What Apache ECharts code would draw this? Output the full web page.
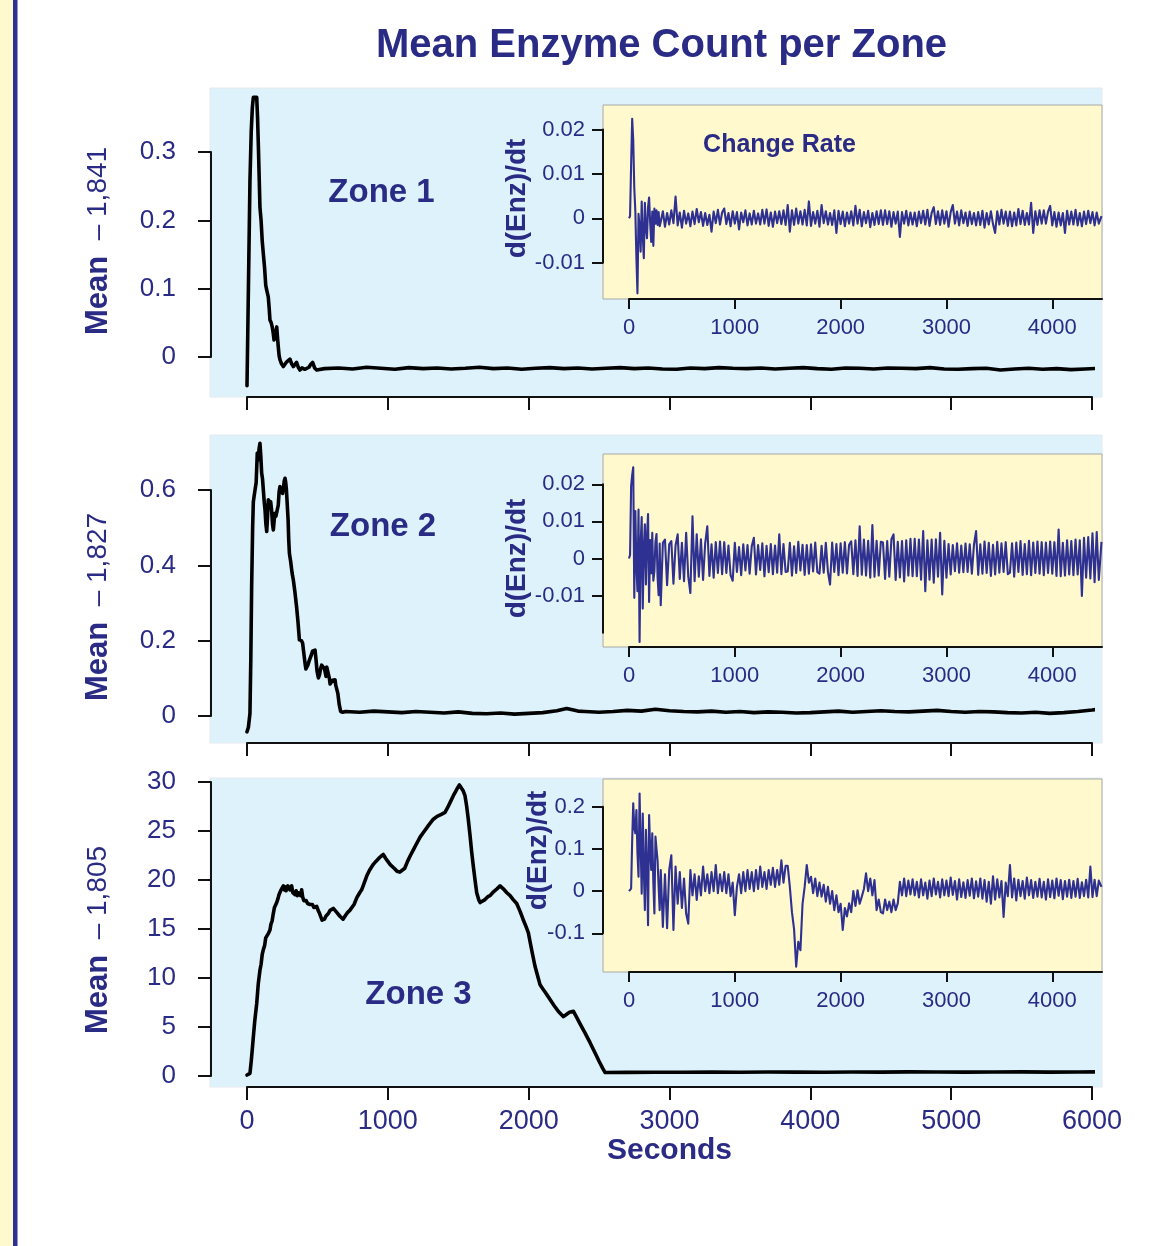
<!DOCTYPE html>
<html>
<head>
<meta charset="utf-8">
<script src="https://cdn.jsdelivr.net/npm/echarts@6/dist/echarts.min.js"></script>
<style>
html,body{margin:0;padding:0;background:#ffffff;}
#chart{width:1153px;height:1246px;}
</style>
</head>
<body>
<div id="chart"></div>
<script>
// ---------------- DATA ----------------
// Main panels: [seconds, mean enzyme count offset]
const zone1Series = [
 [0,-0.042],[10,0.1],[21,0.258],[30,0.33],[38,0.365],[45,0.38],[55,0.382],[69,0.38],[75,0.35],[81,0.307],
 [92,0.219],[100,0.2],[108,0.17],[116,0.151],[125,0.13],[133,0.105],[140,0.098],[151,0.088],[158,0.07],[163,0.054],
 [172,0.05],[179,0.044],[186,0.035],[192,0.025],[200,0.03],[211,0.044],[216,0.03],[222,0.015],[228,0.002],[234,-0.004],
 [245,-0.01],[258,-0.014],[270,-0.012],[282,-0.007],[294,-0.006],[305,-0.003],[317,-0.01],[329,-0.014],[340,-0.012],[352,-0.008],
 [364,-0.015],[376,-0.019],[390,-0.016],[410,-0.018],[424,-0.017],[440,-0.015],[452,-0.011],[466,-0.008],[480,-0.016],[495,-0.019],
 [550,-0.017],[650,-0.016],[750,-0.0175],[850,-0.015],[950,-0.0165],[1050,-0.018],[1150,-0.0155],[1250,-0.017],[1350,-0.016],[1450,-0.0175],
 [1550,-0.0165],[1650,-0.015],[1750,-0.017],[1850,-0.016],[1950,-0.018],[2050,-0.0165],[2150,-0.0155],[2250,-0.017],[2350,-0.016],[2450,-0.0175],
 [2550,-0.0165],[2650,-0.0155],[2750,-0.017],[2850,-0.016],[2950,-0.0175],[3050,-0.018],[3150,-0.016],[3250,-0.017],[3350,-0.0155],[3450,-0.0165],
 [3550,-0.017],[3650,-0.016],[3750,-0.0175],[3850,-0.0165],[3950,-0.0155],[4050,-0.017],[4150,-0.018],[4250,-0.016],[4350,-0.0165],[4450,-0.0175],
 [4550,-0.016],[4650,-0.0165],[4750,-0.017],[4850,-0.0155],[4950,-0.0175],[5050,-0.018],[5150,-0.017],[5250,-0.0165],[5350,-0.019],[5450,-0.0175],
 [5550,-0.0165],[5650,-0.018],[5750,-0.017],[5850,-0.0185],[5950,-0.0175],[6050,-0.0165]
];
const zone2Series = [
 [0,-0.042],[10,-0.03],[21,0.007],[27,0.15],[33,0.343],[40,0.5],[45,0.569],[51,0.585],[57,0.6],[65,0.62],
 [73,0.698],[80,0.68],[86,0.71],[92,0.724],[98,0.69],[104,0.645],[110,0.63],[116,0.6],[122,0.57],[128,0.547],
 [134,0.51],[140,0.49],[146,0.53],[151,0.574],[158,0.575],[163,0.56],[168,0.569],[175,0.545],[181,0.51],[187,0.494],
 [193,0.52],[199,0.538],[205,0.53],[215,0.525],[222,0.56],[228,0.595],[234,0.609],[240,0.6],[247,0.596],[253,0.591],
 [260,0.61],[265,0.625],[270,0.631],[275,0.62],[280,0.6],[286,0.596],[292,0.52],[296,0.47],[301,0.432],[310,0.41],
 [320,0.38],[329,0.361],[340,0.33],[352,0.29],[362,0.25],[372,0.202],[380,0.2],[387,0.2],[395,0.193],[404,0.165],
 [412,0.14],[418,0.125],[424,0.122],[432,0.135],[440,0.145],[447,0.149],[455,0.16],[465,0.172],[475,0.176],[483,0.175],
 [490,0.15],[497,0.12],[507,0.101],[515,0.11],[522,0.125],[530,0.135],[537,0.13],[542,0.132],[550,0.125],[556,0.115],
 [561,0.105],[566,0.13],[572,0.13],[578,0.128],[585,0.1],[590,0.085],[596,0.08],[601,0.08],[608,0.095],[614,0.1],
 [620,0.098],[625,0.096],[630,0.082],[637,0.08],[645,0.06],[655,0.03],[665,0.012],[672,0.007],[680,0.01],
 [700,0.012],[800,0.010],[900,0.013],[1000,0.011],[1100,0.009],[1200,0.012],[1300,0.010],[1400,0.008],[1500,0.011],[1600,0.007],
 [1700,0.006],[1800,0.008],[1900,0.005],[2000,0.007],[2100,0.009],[2200,0.014],[2270,0.02],[2350,0.013],[2400,0.012],[2500,0.010],
 [2600,0.012],[2700,0.015],[2800,0.013],[2900,0.018],[3000,0.014],[3100,0.012],[3200,0.011],[3300,0.013],[3400,0.010],[3500,0.012],
 [3600,0.009],[3700,0.011],[3800,0.010],[3900,0.008],[4000,0.009],[4100,0.011],[4200,0.013],[4300,0.010],[4400,0.012],[4500,0.014],
 [4600,0.012],[4700,0.011],[4800,0.013],[4900,0.015],[5000,0.012],[5100,0.010],[5200,0.012],[5300,0.011],[5400,0.009],[5500,0.008],
 [5600,0.010],[5700,0.007],[5800,0.009],[5900,0.012],[6000,0.016],[6060,0.019]
];
const zone3Series = [
 [0,0.1],[10,0.15],[21,0.27],[30,1.5],[38,2.8],[45,4.0],[55,5.6],[69,7.4],[80,9.4],[92,10.8],
 [100,11.4],[108,12.4],[116,12.9],[125,13.3],[133,14.1],[140,14.2],[150,14.5],[163,14.9],[170,15.5],[178,15.8],
 [187,16.6],[195,17.2],[203,17.4],[211,17.7],[220,18.1],[227,18.5],[234,18.7],[242,19.0],[250,19.1],[258,19.4],
 [265,19.0],[270,19.3],[277,18.9],[282,18.9],[290,19.4],[298,19.3],[305,19.0],[312,18.8],[317,19.4],[325,18.7],
 [333,18.6],[341,18.5],[349,18.9],[357,18.4],[364,18.7],[372,18.6],[380,18.4],[388,19.0],[395,18.3],[403,17.9],
 [412,17.7],[420,17.9],[430,17.6],[440,17.4],[447,17.5],[455,17.3],[465,17.5],[475,17.2],[485,17.3],[495,17.3],
 [505,16.9],[515,16.6],[525,16.2],[533,15.9],[542,15.8],[550,16.0],[560,16.3],[570,16.5],[578,16.6],[590,16.9],
 [600,17.1],[613,17.1],[625,16.9],[637,16.7],[649,16.5],[660,16.3],[672,16.1],[682,16.0],[689,16.1],[700,16.4],
 [715,16.7],[730,16.9],[743,17.0],[760,17.5],[780,18.2],[800,18.7],[814,19.0],[830,19.6],[850,20.4],[870,21.0],
 [897,21.6],[915,21.9],[935,22.2],[950,22.4],[968,22.6],[985,22.2],[1000,21.9],[1015,21.6],[1027,21.4],[1045,21.2],
 [1065,20.9],[1085,20.8],[1099,20.7],[1120,21.2],[1140,21.9],[1160,22.5],[1182,23.1],[1200,23.6],[1230,24.4],[1260,25.0],
 [1290,25.6],[1323,26.2],[1350,26.5],[1380,26.7],[1406,26.9],[1425,27.4],[1445,28.0],[1465,28.6],[1480,29.0],[1495,29.4],
 [1508,29.7],[1520,29.5],[1535,29.1],[1548,28.6],[1560,27.5],[1572,26.1],[1584,24.5],[1595,22.9],[1607,21.4],[1620,19.9],
 [1631,18.7],[1645,18.0],[1655,17.7],[1667,17.7],[1690,18.0],[1710,18.3],[1726,18.4],[1750,18.8],[1775,19.1],[1797,19.4],
 [1820,19.1],[1845,18.7],[1868,18.4],[1890,18.0],[1915,17.6],[1939,16.8],[1960,16.0],[1980,15.3],[1998,14.6],[2010,13.7],
 [2025,12.6],[2045,11.2],[2060,10.4],[2081,9.3],[2100,8.9],[2120,8.5],[2152,7.8],[2180,7.2],[2210,6.6],[2230,6.3],
 [2247,6.06],[2270,6.3],[2290,6.5],[2318,6.6],[2340,6.0],[2370,5.2],[2400,4.4],[2436,3.4],[2470,2.4],[2500,1.5],
 [2525,0.8],[2543,0.35],[2700,0.37],[2900,0.39],[3100,0.38],[3300,0.4],[3500,0.39],[3700,0.41],[3900,0.4],[4100,0.39],
 [4300,0.41],[4500,0.4],[4700,0.42],[4900,0.41],[5100,0.4],[5300,0.41],[5500,0.42],[5700,0.4],[5900,0.41],[6060,0.42]
];

// Inset (change rate) sample times: dense head, then regular 20 s sampling, then final sample
const rateHeadTime = [0,10,20,30,40,50,60,70,80,90,100,110,120,130,140,150,160,170,180,190,200,210,220,230,240,250,260,270,280,290];
const rateTailStart = 300, rateTailStep = 20, rateTailCount = 208, rateEndTime = 4465;

const zone1Rate = [
 0,0.0005,0.012,0.0224,0.0176,0.0068,0.0015,-0.009,-0.0169,0.001,
 -0.002,-0.0075,0.0038,-0.004,-0.009,0.0035,-0.002,-0.0045,0.0025,0.0047,
 -0.001,-0.0053,0.0015,-0.0062,0.0022,-0.0012,0.0018,-0.0015,0.0014,-0.0018,
 -0.0008,0.0016,-0.0019,0.0012,-0.0014,0.0018,-0.0011,0.0049,-0.0016,0.0013,-0.0021,0.0017,-0.0012,0.0011,-0.0018,
 0.0015,-0.0013,0.0021,-0.0009,0.0014,-0.0017,0.0012,-0.0015,0.0008,-0.003,0.0015,-0.0011,0.0019,-0.0014,0.0013,
 0.0022,-0.0013,0.0012,-0.0018,0.0016,-0.0012,0.0014,-0.0025,0.0013,-0.0009,0.0018,-0.0016,0.0011,-0.0014,0.0017,
 -0.0012,0.0011,-0.0014,0.0019,-0.0012,0.002,-0.0017,0.0013,-0.0019,0.0015,-0.0011,0.0016,-0.0013,0.0018,-0.0015,
 0.003,-0.003,0.0018,-0.0015,0.0022,-0.0012,0.0016,-0.0014,0.0019,-0.0016,0.0038,-0.0017,0.0014,-0.0012,0.0017,
 -0.0019,0.003,-0.0011,0.0016,-0.0014,0.0012,-0.0015,0.0018,-0.0033,0.0017,-0.0013,0.0015,-0.0018,0.0013,-0.0012,
 0.0016,-0.0016,0.0028,-0.0012,0.0019,-0.0018,0.0014,-0.0011,0.0017,-0.0020,0.0012,-0.0015,0.0016,-0.0013,0.0018,
 -0.0015,0.0018,-0.0013,0.0016,-0.0019,0.0014,-0.0012,0.0015,-0.0042,0.0014,-0.0012,0.0017,-0.0016,0.0013,-0.0014,
 0.0013,-0.0018,0.0015,-0.0011,0.0017,-0.0014,0.0019,-0.0017,0.0012,0.0025,-0.0013,0.0016,-0.0015,0.0018,-0.0012,
 0.0016,-0.0019,0.0014,0.003,-0.0012,0.0015,-0.0016,0.0018,-0.0011,0.0013,-0.0017,0.0015,-0.0013,0.0012,-0.0016,
 0.0014,-0.0015,0.0017,-0.0021,0.0012,-0.0014,0.0016,-0.0013,-0.0033,0.0016,-0.0014,0.0019,-0.0012,0.0015,-0.0017,
 0.0015,-0.0018,0.0013,-0.0016,0.0021,-0.0013,0.0017,-0.0015,0.0012,-0.0014,0.0035,-0.0033,0.0016,-0.0015,0.0018,
 -0.0012,0.0018,-0.0012,0.0015,0.0028,-0.0016,0.0014,-0.0019,0.0013,-0.0016,0.0012,-0.0033,0.0017,-0.0014,0.0015,
 -0.0014,0.0019,-0.0016,0.0012,-0.0018,0.0015,-0.0013,0.0017,-0.0011,0.0014,-0.0016,0.0013,-0.0012,
 0.0005
];
const zone2Rate = [
 0,0.001,0.0195,0.0225,0.0246,-0.0106,0.0128,-0.002,-0.0088,0.0132,
 -0.0225,0.004,0.0112,-0.0135,0.003,0.0092,-0.007,0.006,0.012,-0.0117,
 0.005,-0.004,0.0069,-0.006,-0.0034,0.0045,0.0066,-0.005,-0.0099,0.004,
 -0.0126,0.0042,0.0051,-0.0072,0.0038,0.0047,-0.0068,0.0035,0.0065,-0.0055,0.0042,-0.0061,0.0069,-0.0048,-0.0093,
 0.0114,-0.0061,0.0065,-0.0049,0.0052,-0.0058,0.0041,0.0087,-0.0047,0.0038,-0.0052,0.0044,-0.0039,0.0046,-0.0042,
 0.0044,-0.0039,0.0035,-0.0045,-0.006,0.0042,-0.0036,0.0031,-0.0045,0.0038,-0.0032,0.0036,-0.0041,0.0033,0.0056,
 -0.0043,0.0036,-0.0031,0.0041,-0.0048,0.0034,-0.0037,0.0039,-0.0042,0.0035,-0.0038,0.0065,-0.0042,0.0039,-0.0036,
 -0.0035,0.0042,-0.0046,0.0033,-0.0039,0.0045,-0.0032,0.0037,-0.0044,0.0036,-0.0041,0.0038,-0.0035,0.0043,-0.0037,
 -0.0041,0.0034,-0.0038,0.0042,-0.0036,-0.007,0.0043,-0.0036,0.0039,-0.0045,0.0041,-0.0038,0.0044,-0.0040,0.0037,
 0.0046,-0.0042,0.0049,-0.0047,0.0087,-0.0044,0.0051,-0.0046,0.0048,-0.0052,0.009,-0.0049,0.0048,-0.0046,0.0045,
 0.0043,-0.0055,0.0047,-0.0049,0.0052,0.0065,-0.0058,0.0045,-0.0051,0.0047,-0.0062,0.0049,-0.0046,0.0053,-0.0048,
 0.0053,-0.0048,0.0051,-0.0057,0.0074,-0.0088,0.0049,-0.0057,0.0051,-0.0065,0.0052,-0.0049,0.0069,-0.0097,0.0048,
 -0.0052,0.0039,-0.0043,0.0036,-0.0034,0.0041,-0.0038,0.0035,-0.0037,0.004,-0.0036,0.0038,-0.0041,0.0037,0.0074,
 -0.0044,0.0038,-0.0041,0.0046,-0.0039,0.0042,-0.0047,0.0037,-0.0043,0.0045,-0.0038,0.0041,-0.0036,0.0044,-0.0042,
 -0.0038,0.0041,-0.0049,0.0043,-0.0036,0.0047,-0.0044,0.0039,-0.0042,0.0048,-0.0045,0.0043,-0.0039,0.0046,-0.0041,
 0.0044,-0.0045,0.0043,-0.0039,0.0046,-0.0041,0.0044,-0.0047,0.0078,-0.0048,0.0042,-0.0046,0.0049,-0.0043,0.0047,
 -0.0045,0.0051,-0.0043,0.0049,-0.0101,0.0056,-0.0052,0.0058,-0.0054,0.0068,-0.0064,0.0071,-0.0058,
 0.0045
];
const zone3Rate = [
 0,0.002,0.006,0.12,0.208,0.15,0.137,0.192,0.09,0.034,
 0.231,0.11,-0.006,0.184,0.05,-0.045,0.145,0.06,-0.081,0.18,
 0.1,0.05,0.137,0.02,-0.053,0.129,0.1,0.073,0.01,-0.045,
 0.05,-0.085,0.04,-0.088,0.05,0.085,-0.092,0.058,-0.03,0.045,-0.04,0.03,-0.053,-0.077,0.05,
 -0.01,0.04,-0.021,0.035,-0.01,0.058,0.0,0.04,-0.005,0.045,0.0,0.062,-0.005,0.04,0.0,
 0.045,-0.005,0.04,-0.012,0.02,-0.057,0.01,0.04,-0.005,0.045,0.0,0.05,0.005,0.045,0.0,
 0.05,0.005,0.058,0.01,0.045,0.005,0.05,0.015,0.055,0.01,0.05,0.015,0.073,0.02,0.06,
 0.06,0.01,-0.05,-0.09,-0.179,-0.12,-0.14,-0.03,0.01,0.062,0.02,0.034,-0.005,0.03,-0.012,
 0.02,-0.013,0.015,-0.025,0.01,-0.03,0.0,-0.045,-0.01,-0.05,-0.03,-0.092,-0.04,-0.06,-0.029,
 -0.05,0.0,-0.035,0.002,-0.03,-0.013,0.005,0.042,0.0,0.03,-0.01,0.026,-0.045,-0.02,-0.05,
 -0.053,-0.02,-0.045,-0.025,-0.05,-0.02,-0.045,-0.029,0.022,-0.01,0.03,-0.012,0.025,-0.008,0.028,
 -0.01,0.022,-0.015,0.028,-0.01,0.02,-0.018,0.025,-0.012,0.03,-0.008,0.022,-0.015,0.028,-0.01,
 0.025,-0.012,0.032,-0.009,0.024,-0.02,0.028,-0.014,0.021,-0.016,0.026,-0.011,0.03,-0.017,0.023,
 -0.013,0.03,-0.018,0.026,-0.025,0.022,-0.03,0.035,-0.02,0.028,-0.015,0.024,-0.061,0.02,-0.012,
 0.062,-0.015,0.03,-0.022,0.027,-0.012,0.024,-0.018,0.032,-0.01,0.026,-0.016,0.022,-0.013,0.029,
 -0.015,0.022,-0.02,0.028,-0.014,0.025,-0.017,0.03,-0.011,0.026,-0.019,0.024,-0.013,0.027,-0.016,
 0.024,-0.013,0.029,-0.016,0.021,-0.012,0.027,-0.015,0.058,-0.014,0.027,-0.012,0.025,
 0.01
];

// Tick values and labels
const mainXTicks = [0,1000,2000,3000,4000,5000,6000];
const insetXTicks = [0,1000,2000,3000,4000];
const zoneNames = ['Zone 1','Zone 2','Zone 3'];
const meanOffsets = ['– 1,841','– 1,827','– 1,805'];

// ---------------- BUILD ----------------
const NAVY = '#2a2b85';
const RATE_BLUE = '#2e3192';
const FONT = '"Liberation Sans", Arial, Helvetica, sans-serif';

const rateTime = rateHeadTime.concat(
  Array.from({length: rateTailCount}, (_, i) => rateTailStart + i * rateTailStep),
  [rateEndTime]
);
function pairRate(vals){ return rateTime.map((t, i) => [t, vals[i]]).filter(p => p[1] !== undefined); }

const fmt = v => String(parseFloat(Number(v).toPrecision(6)));

const grids = [], xAxes = [], yAxes = [], series = [];

function addBox(r, bg, border, z){
  grids.push({left:r.left, top:r.top, width:r.width, height:r.height, show:true,
    backgroundColor:bg, borderColor:border, borderWidth:1, z:z});
  const gi = grids.length - 1;
  xAxes.push({gridIndex:gi, type:'value', show:false, min:0, max:1});
  yAxes.push({gridIndex:gi, type:'value', show:false, min:0, max:1});
}

function addAxes(c){
  grids.push({left:c.left, top:c.top, width:c.width, height:c.height, show:false});
  const gi = grids.length - 1;
  const xi = xAxes.length, yi = yAxes.length;
  const lineStyle = {color:'#111111', width:2};
  xAxes.push({
    gridIndex:gi, type:'value', position:'bottom', offset:c.xOffset, z:6,
    min:c.xMin, max:c.xMax, interval:1000,
    axisLine:{show:true, onZero:false, lineStyle:lineStyle},
    axisTick:{show:true, inside:false, length:c.xTickLen, lineStyle:lineStyle, customValues:c.xTicks},
    axisLabel:{show:c.xLabels, margin:c.xMargin, color:NAVY, fontSize:c.xFont, fontFamily:FONT,
      formatter:fmt, customValues:c.xTicks, hideOverlap:false},
    splitLine:{show:false},
    name:c.xName || '', nameLocation:'middle', nameGap:c.xNameGap || 0,
    nameTextStyle:{color:NAVY, fontSize:30, fontWeight:'bold', fontFamily:FONT}
  });
  yAxes.push({
    gridIndex:gi, type:'value', position:'left', offset:c.yOffset, z:6,
    min:c.yMin, max:c.yMax, interval:c.yInt,
    axisLine:{show:true, onZero:false, lineStyle:lineStyle},
    axisTick:{show:true, inside:false, length:c.yTickLen, lineStyle:lineStyle},
    axisLabel:{show:true, margin:c.yMargin, color:NAVY, fontSize:c.yFont, fontFamily:FONT,
      formatter:fmt, showMinLabel:!c.hideMinLabel, showMaxLabel:true, hideOverlap:false},
    splitLine:{show:false}
  });
  return [xi, yi];
}

// Main panels
const panels = [
  {box:{left:210, top:88, width:892, height:309}, top:152, height:205, yMax:0.3, yInt:0.1, xOffset:40, data:zone1Series, labels:false},
  {box:{left:210, top:435, width:892, height:308}, top:490, height:226, yMax:0.6, yInt:0.2, xOffset:27, data:zone2Series, labels:false},
  {box:{left:210, top:778, width:892, height:309}, top:782, height:294, yMax:30, yInt:5, xOffset:11, data:zone3Series, labels:true}
];
const insets = [
  {box:{left:603, top:105, width:499, height:194}, top:129.5, height:133.2, yMin:-0.01, yMax:0.02, yInt:0.01, xOffset:36.3, data:pairRate(zone1Rate)},
  {box:{left:603, top:454, width:499, height:193}, top:484.3, height:148.4, yMin:-0.02, yMax:0.02, yInt:0.01, xOffset:14.3, data:pairRate(zone2Rate), hideMin:true},
  {box:{left:603, top:779, width:499, height:193}, top:806.7, height:126.6, yMin:-0.1, yMax:0.2, yInt:0.1, xOffset:38.7, data:pairRate(zone3Rate)}
];

panels.forEach(p => addBox(p.box, '#ddf2fb', '#e4eaee', 0));
insets.forEach(p => addBox(p.box, '#fff9cd', '#a8a8a8', 1));

panels.forEach(p => {
  const [xi, yi] = addAxes({
    left:247, width:845, top:p.top, height:p.height,
    xMin:0, xMax:6000, xTicks:mainXTicks, xOffset:p.xOffset, xTickLen:13, xLabels:p.labels, xMargin:21, xFont:27,
    xName: p.labels ? 'Seconds' : '', xNameGap:45,
    yMin:0, yMax:p.yMax, yInt:p.yInt, yOffset:36, yTickLen:13, yMargin:35, yFont:26
  });
  series.push({type:'line', xAxisIndex:xi, yAxisIndex:yi, data:p.data, showSymbol:false, symbol:'none',
    clip:false, silent:true, z:3, lineStyle:{color:'#000000', width:3.6, join:'round', cap:'round'}});
});
insets.forEach(p => {
  const [xi, yi] = addAxes({
    left:629, width:473, top:p.top, height:p.height,
    xMin:0, xMax:4470, xTicks:insetXTicks, xOffset:p.xOffset, xTickLen:10, xLabels:true, xMargin:18, xFont:22,
    yMin:p.yMin, yMax:p.yMax, yInt:p.yInt, yOffset:26, yTickLen:11, yMargin:18, yFont:22, hideMinLabel:p.hideMin
  });
  series.push({type:'line', xAxisIndex:xi, yAxisIndex:yi, data:p.data, showSymbol:false, symbol:'none',
    clip:false, silent:true, z:4, lineStyle:{color:RATE_BLUE, width:2.1, join:'round'}});
});

// Text decorations
const txt = (x, y, text, font, extra) => Object.assign({type:'text', x:x, y:y, z:100, silent:true,
  style:{text:text, font:font, fill:NAVY, align:'center', verticalAlign:'middle'}}, extra || {});
const meanLabel = (y, off) => ({type:'text', x:98, y:y, rotation:Math.PI/2, z:100, silent:true,
  style:{text:'{b|Mean}  {n|' + off + '}', fontSize:28, fontFamily:FONT, fill:NAVY, align:'center', verticalAlign:'middle',
    rich:{b:{fontSize:31, fontWeight:'bold', fontFamily:FONT, fill:NAVY}, n:{fontSize:28, fontFamily:FONT, fill:NAVY}}}});
const rateLabel = (x, y) => ({type:'text', x:x, y:y, rotation:Math.PI/2, z:100, silent:true,
  style:{text:'d(Enz)/dt', font:'bold 28px ' + FONT, fill:NAVY, align:'center', verticalAlign:'middle'}});

const graphic = [
  {type:'rect', shape:{x:0, y:0, width:13, height:1246}, style:{fill:'#fff9cd'}, z:100, silent:true},
  {type:'rect', shape:{x:13, y:0, width:4.5, height:1246}, style:{fill:'#2e3192'}, z:100, silent:true},
  txt(661.5, 46, 'Mean Enzyme Count per Zone', 'bold 40px ' + FONT),
  txt(381.5, 193, zoneNames[0], 'bold 33px ' + FONT),
  txt(383, 527, zoneNames[1], 'bold 33px ' + FONT),
  txt(418.5, 995, zoneNames[2], 'bold 33px ' + FONT),
  txt(779.5, 145, 'Change Rate', 'bold 25px ' + FONT),
  meanLabel(241, meanOffsets[0]),
  meanLabel(607, meanOffsets[1]),
  meanLabel(940, meanOffsets[2]),
  rateLabel(517, 198.5),
  rateLabel(517, 558.5),
  rateLabel(538, 850.5)
];

const chart = echarts.init(document.getElementById('chart'), null, {renderer:'canvas', width:1153, height:1246});
chart.setOption({
  animation:false,
  backgroundColor:'#ffffff',
  textStyle:{fontFamily:FONT},
  grid:grids, xAxis:xAxes, yAxis:yAxes, series:series, graphic:graphic
});
</script>
</body>
</html>
